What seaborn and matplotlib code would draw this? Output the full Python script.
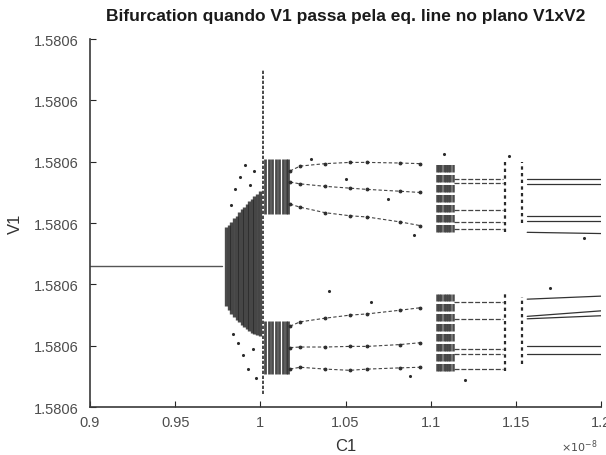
import seaborn as sns
import matplotlib.pyplot as plt
import pandas as pd

# C1 values are in units of 1e-8, V1 offsets are in tick steps (all ticks read 1.5806)
yticks = [0, 1, 2, 3, 4, 5, 6]
ytick_labels = ['1.5806'] * 7
xticks = [0.9, 0.95, 1.0, 1.05, 1.1, 1.15, 1.2]
xtick_labels = ['0.9', '0.95', '1', '1.05', '1.1', '1.15', '1.2']

# equilibrium before the bifurcation
eq_c1 = [0.900, 0.9775]
eq_v1 = [2.30, 2.30]

# chaotic band (columns with their vertical extent)
band_c1 = [0.9800, 0.9815, 0.9830, 0.9845, 0.9860, 0.9875, 0.9890, 0.9905,
           0.9920, 0.9935, 0.9950, 0.9965, 0.9980, 0.9995]
band_lo = [1.65, 1.58, 1.52, 1.47, 1.42, 1.38, 1.34, 1.30, 1.27, 1.24, 1.21, 1.19, 1.17, 1.16]
band_hi = [2.93, 2.97, 3.02, 3.08, 3.12, 3.18, 3.23, 3.27, 3.31, 3.36, 3.40, 3.44, 3.48, 3.52]

# spike at C1 = 1
spike_c1 = [1.0016]
spike_lo = [0.22]
spike_hi = [5.50]

# dense blocks right after the spike
blk1_c1 = [1.0030, 1.0050, 1.0070, 1.0090, 1.0110, 1.0130, 1.0150, 1.0162]
blk1_up = (3.15, 4.04)
blk1_dn = (0.54, 1.40)

# periodic branches between 1.017 and 1.094
br_c1 = [1.0174, 1.0233, 1.0380, 1.0526, 1.0627, 1.0820, 1.0937]
br_up1 = [3.85, 3.93, 3.97, 3.99, 3.99, 3.98, 3.97]
br_up2 = [3.67, 3.64, 3.60, 3.57, 3.55, 3.52, 3.50]
br_up3 = [3.31, 3.26, 3.17, 3.12, 3.10, 3.02, 2.96]
br_lo1 = [1.32, 1.39, 1.45, 1.50, 1.52, 1.58, 1.62]
br_lo2 = [0.97, 0.98, 0.98, 0.99, 0.99, 1.02, 1.05]
br_lo3 = [0.62, 0.65, 0.62, 0.60, 0.62, 0.64, 0.65]

# second dense block near 1.1
blk2_c1 = [1.1037, 1.1050, 1.1063, 1.1076, 1.1089, 1.1102, 1.1115, 1.1131]
blk2_up = (2.85, 4.00)
blk2_dn = (0.59, 1.84)

# short segments between 1.113 and 1.1425
mid_c1 = [1.1135, 1.1425]
mid_v1 = [[3.72, 3.72], [3.66, 3.66], [3.22, 3.22], [3.02, 3.02], [2.90, 2.90],
          [1.71, 1.71], [1.43, 1.43], [0.95, 0.95], [0.87, 0.87], [0.62, 0.62]]

# dotted columns
col_c1 = [1.1436, 1.1536]
col_up = [(2.85, 4.00), (3.00, 4.00)]
col_dn = [(0.59, 1.84), (0.70, 1.80)]

# branches on the far right
end_c1 = [1.1566, 1.2000]
end_v1 = [[3.72, 3.72], [3.64, 3.64], [3.11, 3.11], [3.03, 3.03], [2.85, 2.83],
          [1.76, 1.81], [1.48, 1.57], [1.44, 1.49], [0.99, 0.99], [0.86, 0.86]]

# stray points
stray_c1 = [0.9830, 0.9850, 0.9880, 0.9910, 0.9940, 0.9960, 0.9870, 0.9900,
            0.9930, 0.9955, 0.9840, 0.9975, 1.0300, 1.0500, 1.0750, 1.0900,
            1.0400, 1.0650, 1.0880, 1.1200, 1.1080, 1.1900, 1.1700, 1.1460]
stray_v1 = [3.30, 3.55, 3.75, 3.95, 3.62, 3.85, 1.05, 0.85, 0.62, 0.95, 1.20, 0.48,
            4.05, 3.72, 3.40, 2.80, 1.90, 1.72, 0.50, 0.45, 4.12, 2.75, 1.95, 4.10]

ink = '#2b2b2b'

sns.set_style('ticks')
plt.rcParams['font.family'] = ['Liberation Sans', 'DejaVu Sans']

fig = plt.figure(figsize=(6.06, 4.56), dpi=100)
ax = fig.add_axes([0.1485, 0.105, 0.8435, 0.807])

sns.lineplot(x=eq_c1, y=eq_v1, ax=ax, color='#555555', lw=1.0)

ax.vlines(band_c1, band_lo, band_hi, color=ink, lw=2.4, alpha=0.85)
ax.vlines(spike_c1, spike_lo, spike_hi, color=ink, lw=1.2, linestyles=(0, (2, 1)))
ax.vlines(blk1_c1, *blk1_up, color=ink, lw=2.0, alpha=0.85)
ax.vlines(blk1_c1, *blk1_dn, color=ink, lw=2.0, alpha=0.85)
ax.vlines(blk2_c1, *blk2_up, color=ink, lw=1.8, alpha=0.85, linestyles=(0, (3, 1)))
ax.vlines(blk2_c1, *blk2_dn, color=ink, lw=1.8, alpha=0.85, linestyles=(0, (3, 1)))
for c, (u, d) in zip(col_c1, zip(col_up, col_dn)):
    ax.vlines([c, c], [u[0], d[0]], [u[1], d[1]], color=ink, lw=1.6,
              linestyles=(0, (1.5, 1.5)))

branches = [br_up1, br_up2, br_up3, br_lo1, br_lo2, br_lo3]
for b in branches:
    df = pd.DataFrame({'C1': br_c1, 'V1': b})
    sns.lineplot(data=df, x='C1', y='V1', ax=ax, color='#444444', lw=0.8,
                 linestyle=(0, (3, 2)), marker='.', markersize=4, mec=ink, mfc=ink)
for v in mid_v1:
    sns.lineplot(x=mid_c1, y=v, ax=ax, color='#444444', lw=0.9, linestyle=(0, (4, 1.5)))
for v in end_v1:
    sns.lineplot(x=end_c1, y=v, ax=ax, color='#333333', lw=0.9)

sns.scatterplot(x=stray_c1, y=stray_v1, ax=ax, color=ink, s=5, linewidth=0)

ax.set_xlim(0.9, 1.2)
ax.set_ylim(0, 6)
ax.set_xticks(xticks)
ax.set_xticklabels(xtick_labels)
ax.set_yticks(yticks)
ax.set_yticklabels(ytick_labels)
ax.tick_params(direction='in', length=4, colors='#262626', labelcolor='#4d4d4d', labelsize=10.5)
ax.tick_params(axis='y', pad=8)
ax.tick_params(axis='x', pad=6)
sns.despine(ax=ax)
for s in ['left', 'bottom']:
    ax.spines[s].set_color('#3a3a3a')
    ax.spines[s].set_linewidth(1.2)

ax.set_xlabel('C1', fontsize=12, color='#333333', labelpad=6)
ax.set_ylabel('V1', fontsize=12, color='#333333', labelpad=8)
ax.set_title('Bifurcation quando V1 passa pela eq. line no plano V1xV2',
             fontsize=12.5, fontweight='bold', color='#1a1a1a', pad=14)
fig.text(0.925, 0.01, r'$\times10^{-8}$', fontsize=8, color='#4d4d4d')

fig.savefig('out.png', dpi=100, facecolor='white')
